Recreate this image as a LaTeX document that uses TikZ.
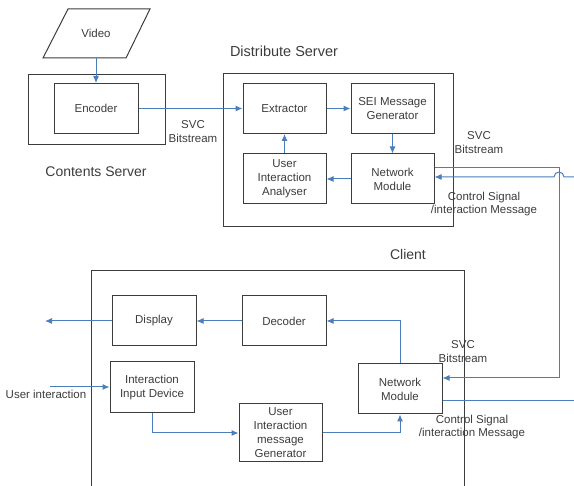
\documentclass[tikz,border=0pt]{standalone}
\usepackage{fontspec}
\setmainfont{Liberation Sans}
\usetikzlibrary{arrows.meta, calc}
\definecolor{linkblue}{HTML}{4A7EBB}
\definecolor{boxgray}{HTML}{3C3C3C}

\begin{document}
\begin{tikzpicture}[x=1pt, y=-1pt,
	block/.style={draw=boxgray, line width=1pt, text=boxgray, minimum width=83pt, minimum height=50pt, align=center, inner sep=1pt, font=\fontsize{11.5}{14}\selectfont},
	frame/.style={draw=boxgray, line width=1pt},
	flow/.style={draw=linkblue, line width=1pt, -{Latex[length=7pt,width=6pt]}},
	title/.style={text=boxgray, font=\fontsize{14}{17}\selectfont},
	note/.style={text=boxgray, align=center, inner sep=0pt, font=\fontsize{11.5}{13.5}\selectfont}]

	\useasboundingbox (0,0) rectangle (574,486);

	% contents server
	\node[minimum width=60pt, minimum height=49pt, inner sep=0pt, text=boxgray, font=\fontsize{11.5}{14}\selectfont] (video) at (96,33.5) {Video};
	\draw[frame] (68,9) -- (150,9) -- (126,58) -- (43,58) -- cycle;
	\node[frame, minimum width=137pt, minimum height=70pt] (cs) at (96.5,110) {};
	\node[block, minimum width=84pt] (enc) at (96,108.5) {Encoder};
	\node[title] (cslabel) at (96,172) {Contents Server};

	% distribute server
	\node[frame, minimum width=230pt, minimum height=153pt] (ds) at (338,150.5) {};
	\node[title, font=\fontsize{14.5}{17}\selectfont] (dslabel) at (284,51) {Distribute Server};
	\node[block] (ext) at (284.5,108.5) {Extractor};
	\node[block] (sei) at (392.5,108.5) {SEI Message\\Generator};
	\node[block] (net1) at (392.5,179) {Network\\Module};
	\node[block] (uia) at (284.5,179) {User\\Interaction\\Analyser};

	% client
	\draw[frame] (91,490) -- (91,271) -- (464,271) -- (464,490);
	\node[title] (cllabel) at (408,254) {Client};
	\node[block, minimum width=84pt] (disp) at (154,321) {Display};
	\node[block, minimum width=84pt] (dec) at (284,321) {Decoder};
	\node[block, minimum width=84pt, minimum height=51pt] (iid) at (152,387.5) {Interaction\\Input Device};
	\node[block, minimum height=58pt] (uimg) at (280.5,433) {User\\Interaction\\message\\Generator};
	\node[block, minimum width=84pt] (net2) at (400,389) {Network\\Module};

	% labels
	\node[note] (svc1) at (193,131.5) {SVC\\Bitstream};
	\node[note] (svc2) at (479,142.5) {SVC\\Bitstream};
	\node[note] (ctl1) at (484,204) {Control Signal\\/interaction Message};
	\node[note] (svc3) at (463,351.5) {SVC\\Bitstream};
	\node[note] (ctl2) at (472,427) {Control Signal\\/interaction Message};
	\node[note] (ulabel) at (46,394) {User interaction};

	\coordinate (t1) at (559,167.5);
	\coordinate (t2) at (559,378);
	\coordinate (r1) at (574,177);
	\coordinate (r2) at (574,401);
	\coordinate (out) at (45,321);
	\coordinate (uin) at (50,387);

	% connectors
	\draw[flow] (video.south) -- (enc.north);
	\draw[flow] (enc) -- (ext);
	\draw[flow] (ext) -- (sei);
	\draw[flow] (sei) -- (net1);
	\draw[flow] (net1) -- (uia);
	\draw[flow] (uia) -- (ext);
	\draw[flow] (net1.east |- t1) -- (t1) -- (t2) -- (net2.east |- t2);
	\draw[flow] (r1) -- (564,177) arc[start angle=0, end angle=180, radius=5pt] -- (net1.east |- r1);
	\draw[flow, -] (net2.east |- r2) -- (r2);
	\draw[flow] (dec) -- (disp);
	\draw[flow] (disp) -- (out);
	\draw[flow] (uin) -- (iid.west |- uin);
	\draw[flow] (iid.south) |- (uimg.west);
	\draw[flow] (uimg.east) -| (net2.south);
	\draw[flow] (net2.north) |- (dec.east);
\end{tikzpicture}
\end{document}
